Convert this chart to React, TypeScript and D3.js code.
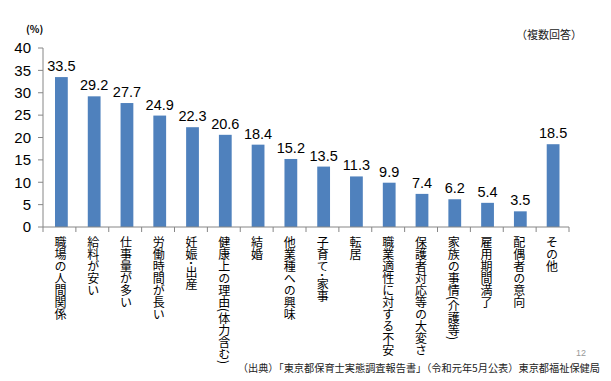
import React from "react";
import * as d3 from "d3";

const categories = [
  "職場の人間関係",
  "給料が安い",
  "仕事量が多い",
  "労働時間が長い",
  "妊娠･出産",
  "健康上の理由(体力含む)",
  "結婚",
  "他業種への興味",
  "子育て･家事",
  "転居",
  "職業適性に対する不安",
  "保護者対応等の大変さ",
  "家族の事情(介護等)",
  "雇用期間満了",
  "配偶者の意向",
  "その他",
];
const values = [33.5, 29.2, 27.7, 24.9, 22.3, 20.6, 18.4, 15.2, 13.5, 11.3, 9.9, 7.4, 6.2, 5.4, 3.5, 18.5];
const yTicks = [0, 5, 10, 15, 20, 25, 30, 35, 40];

const W = 611;
const H = 381;
const FONT = "'Liberation Sans', 'Noto Sans CJK JP', sans-serif";
const JP = "'Noto Sans CJK JP', sans-serif";

export default function App() {
  const x = d3.scaleBand<string>().domain(categories).range([45, 569.5]).paddingInner(0.61).paddingOuter(0.305);
  const band = d3.scaleBand<string>().domain(categories).range([43, 569]);
  const y = d3.scaleLinear().domain([0, 40]).range([227, 48]);
  const axisColor = "#868686";
  return (
    <svg width={W} height={H} style={{ position: "absolute", left: 0, top: 0, background: "#fff" }}>
      {/* y axis */}
      <line x1={43} x2={43} y1={y(40)} y2={y(0)} stroke={axisColor} />
      {yTicks.map((t) => (
        <g key={t}>
          <line x1={38} x2={43} y1={y(t)} y2={y(t)} stroke={axisColor} />
          <text x={31} y={y(t)} dy="0.35em" textAnchor="end" fontSize={15} fontFamily={FONT} fill="#000">
            {t}
          </text>
        </g>
      ))}
      {/* bars */}
      {categories.map((c, i) => (
        <rect key={c} x={x(c)} y={y(values[i])} width={x.bandwidth()} height={y(0) - y(values[i])} fill="#4F81BD" />
      ))}
      {/* x axis */}
      <line x1={43} x2={569} y1={y(0)} y2={y(0)} stroke={axisColor} />
      {categories.map((c) => (
        <line key={"t" + c} x1={band(c)!} x2={band(c)!} y1={y(0)} y2={y(0) + 5} stroke={axisColor} />
      ))}
      <line x1={569} x2={569} y1={y(0)} y2={y(0) + 5} stroke={axisColor} />
      {/* value labels */}
      {categories.map((c, i) => (
        <text
          key={"v" + c}
          x={x(c)! + x.bandwidth() / 2}
          y={y(values[i]) - 6}
          textAnchor="middle"
          fontSize={14.5}
          fontFamily={FONT}
          fill="#000"
        >
          {values[i]}
        </text>
      ))}
      {/* category labels */}
      {categories.map((c) => (
        <text
          key={"c" + c}
          x={x(c)! + x.bandwidth() / 2 - 1}
          y={236}
          fontSize={12}
          fontFamily={JP}
          fill="#000"
          style={{ writingMode: "vertical-rl" as any }}
        >
          {c}
        </text>
      ))}
      <text x={26} y={33} fontSize={10} fontWeight="bold" fontFamily={JP} fill="#000">
        (%)
      </text>
      <text x={582} y={39} textAnchor="end" fontSize={11} fontFamily={JP} fill="#222">
        （複数回答）
      </text>
      <text x={586} y={356} textAnchor="end" fontSize={9} fontFamily={FONT} fill="#999">
        12
      </text>
      <text x={600} y={372} textAnchor="end" fontSize={10.2} fontFamily={JP} fill="#222">
        （出典）「東京都保育士実態調査報告書」（令和元年5月公表）東京都福祉保健局
      </text>
    </svg>
  );
}
